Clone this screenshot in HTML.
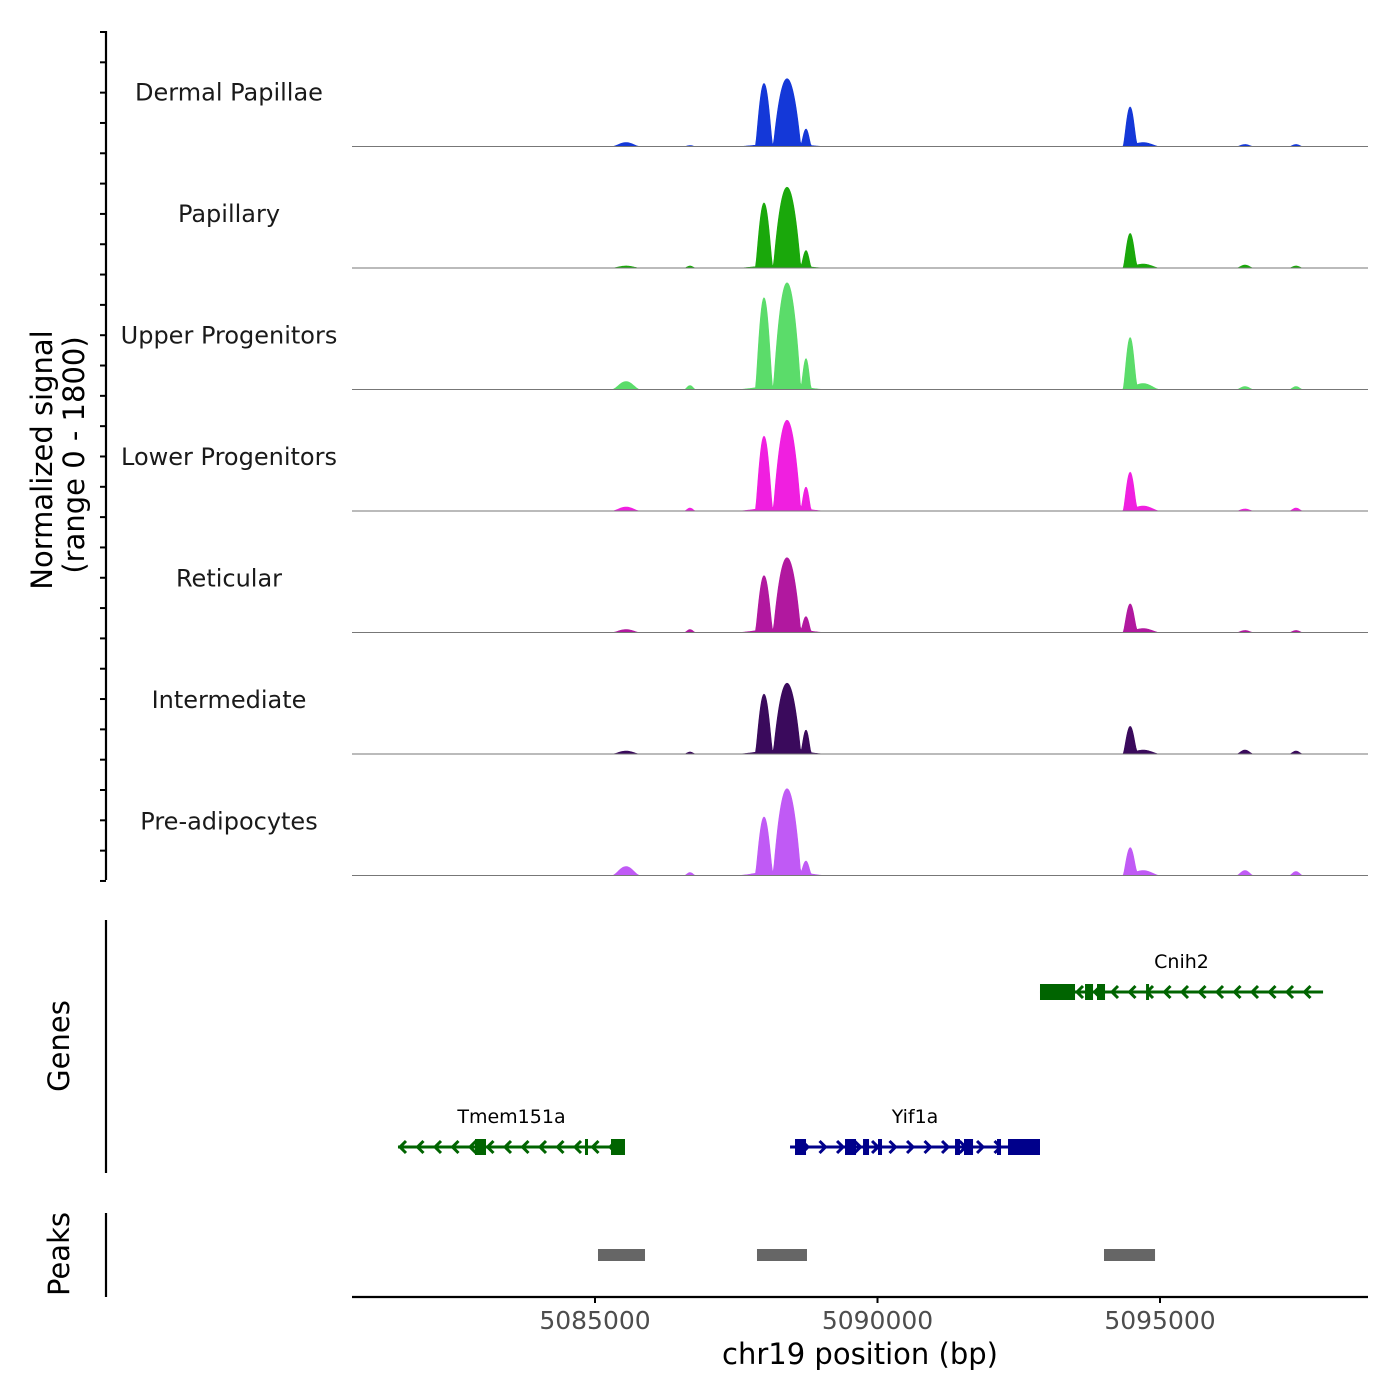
<!DOCTYPE html>
<html><head><meta charset="utf-8"><style>
html,body{margin:0;padding:0;background:#fff;}
svg{display:block;font-family:"DejaVu Sans","Liberation Sans",sans-serif;}
</style></head><body>
<svg id="chart" width="1400" height="1400" viewBox="0 0 1400 1400" xmlns="http://www.w3.org/2000/svg">
<g id="tracks"></g>
<g id="genes"></g>
<g id="peaks"></g>
<g id="axes">
  <text transform="translate(52,460) rotate(-90)" text-anchor="middle" font-size="29" fill="#000">Normalized signal</text>
  <text transform="translate(84,455) rotate(-90)" text-anchor="middle" font-size="29" fill="#000">(range 0 - 1800)</text>
  <text transform="translate(69,1046) rotate(-90)" text-anchor="middle" font-size="29" fill="#000">Genes</text>
  <text transform="translate(69,1254) rotate(-90)" text-anchor="middle" font-size="29" fill="#000">Peaks</text>
  <text x="860" y="1364" text-anchor="middle" font-size="29" fill="#000">chr19 position (bp)</text>
</g>
</svg>
<script>
const trackNames = ["Dermal Papillae","Papillary","Upper Progenitors","Lower Progenitors","Reticular","Intermediate","Pre-adipocytes"];
const trackColors = ["#1438d8","#1aa80b","#5bdc6a","#f01fe0","#b1189f","#3a0a5c","#c05af5"];
// feature centers (bp) and half-widths (bp)
const featureCenters = [5087991,5088400,5088735,5088300,5094469,5085549,5086681,5096504,5097407,5094700];
const featureWidths  = [150,240,90,800,125,250,100,150,120,300];
// per-track feature heights (signal units)
const sigDermal = [903,962,237,44,577,59,15,30,30,59];
const sigPapillary = [932,1154,237,44,503,30,30,44,30,59];
const sigUpper = [1317,1524,429,59,755,118,59,44,44,89];
const sigLower = [1066,1288,326,59,562,59,44,30,44,74];
const sigReticular = [799,1051,207,59,414,44,44,30,30,59];
const sigIntermediate = [844,992,326,59,400,44,30,59,44,59];
const sigPreadipocytes = [814,1214,178,74,400,133,44,74,59,74];
const trackSignals = [sigDermal,sigPapillary,sigUpper,sigLower,sigReticular,sigIntermediate,sigPreadipocytes];
const xTicks = [5085000,5090000,5095000];
const peakStarts = [5085053,5087867,5094009];
const peakEnds = [5085885,5088752,5094912];
const geneNames = ["Cnih2","Tmem151a","Yif1a"];
const geneStarts = [5092876,5081513,5088452];
const geneEnds = [5097886,5085531,5092876];
const geneStrands = [-1,-1,1];
const geneExons = [
  [[5092876,5093496],[5093673,5093815],[5093885,5094027],[5094753,5094790]],
  [[5082876,5083071],[5084823,5084860],[5085283,5085531]],
  [[5088540,5088735],[5089425,5089620],[5089744,5089850],[5090009,5090080],[5091372,5091460],[5091531,5091691],[5092115,5092186],[5092310,5092876]]
];
const geneColors = ["#006400","#006400","#00008b"];

const NS="http://www.w3.org/2000/svg";
const X=bp=>595+(bp-5085000)*0.0565;
const MAXV=1800, TRACK_H=121.5, TOP=25;
const Y=(i,v)=>TOP+TRACK_H*(i+1)-v*(TRACK_H/MAXV);
function mk(tag,attrs,parent){const e=document.createElementNS(NS,tag);for(const k in attrs)e.setAttribute(k,attrs[k]);parent.appendChild(e);return e;}
const tracks=document.getElementById('tracks');
const shapes=[1.3,1.0,1.5,2,1.6,2,2,2,2,2];
for(let i=0;i<trackNames.length;i++){
  const g=mk('g',{},tracks);
  
  
  const lab=mk('text',{x:229,y:Y(i,0)-46,'text-anchor':'middle','font-size':24,fill:'#1a1a1a'},g);
  lab.textContent=trackNames[i];
  
  
  let d='M'+X(5081600)+','+Y(i,0);
  for(let bp=5081600;bp<=5097900;bp+=15){
    let v=0;
    for(let f=0;f<featureCenters.length;f++){
      const t=(bp-featureCenters[f])/featureWidths[f];
      if(Math.abs(t)<1)v+=trackSignals[i][f]*Math.pow(1-t*t,shapes[f]);
    }
    d+=' L'+X(bp).toFixed(2)+','+Y(i,v).toFixed(2);
  }
  d+=' L'+X(5097900)+','+Y(i,0)+'Z';
  const a=mk('path',{d:d,fill:trackColors[i],stroke:trackColors[i],'stroke-width':0.6},g);
  
  
  const bl=mk('line',{x1:352,x2:1368,y1:Y(i,0),y2:Y(i,0),stroke:'#777','stroke-width':1},g);
  
  
}
const axes=document.getElementById('axes');
const yl=mk('line',{x1:106,x2:106,y1:31,y2:880,stroke:'#000','stroke-width':2.2},axes);


for(let k=0;k<29;k++){const y=32+k*30.32;const t=mk('line',{x1:100,x2:106,y1:y,y2:y,stroke:'#000','stroke-width':2},axes);

}
const gl=mk('line',{x1:106,x2:106,y1:920,y2:1173,stroke:'#000','stroke-width':2.2},axes);


const pl=mk('line',{x1:106,x2:106,y1:1213,y2:1297,stroke:'#000','stroke-width':2.2},axes);


const xl=mk('line',{x1:352,x2:1368,y1:1297,y2:1297,stroke:'#000','stroke-width':2.2},axes);


xTicks.forEach(v=>{const t=mk('line',{x1:X(v),x2:X(v),y1:1297,y2:1303,stroke:'#000','stroke-width':2},axes);


const l=mk('text',{x:X(v),y:1329,'text-anchor':'middle','font-size':25,fill:'#4d4d4d'},axes);l.textContent=v;

});
// genes
const genes=document.getElementById('genes');
const geneY=[992,1147,1147];
for(let i=0;i<geneNames.length;i++){
  const g=mk('g',{},genes);
  
  
  const y=geneY[i],c=geneColors[i];
  mk('line',{x1:X(geneStarts[i]),x2:X(geneEnds[i]),y1:y,y2:y,stroke:c,'stroke-width':3},g);
  const s=geneStrands[i];
  for(let x=X(geneStarts[i])+(s<0?2:18);x<=X(geneEnds[i])-2;x+=17.5){
    mk('polyline',{points:(x-6*s)+','+(y-6)+' '+x+','+y+' '+(x-6*s)+','+(y+6),fill:'none',stroke:c,'stroke-width':3},g);
  }
  geneExons[i].forEach(e=>{const w=Math.max(3,X(e[1])-X(e[0]));mk('rect',{x:X(e[0]),y:y-8,width:w,height:16,fill:c},g);});
  const lab=mk('text',{x:(X(geneStarts[i])+X(geneEnds[i]))/2,y:y-24,'text-anchor':'middle','font-size':19,fill:'#000'},g);
  lab.textContent=geneNames[i];
  
  
}
const peaks=document.getElementById('peaks');
for(let i=0;i<peakStarts.length;i++){
  const r=mk('rect',{x:X(peakStarts[i]),y:1249,width:X(peakEnds[i])-X(peakStarts[i]),height:12,fill:'#666'},peaks);
  
  
}
</script>
</body></html>
